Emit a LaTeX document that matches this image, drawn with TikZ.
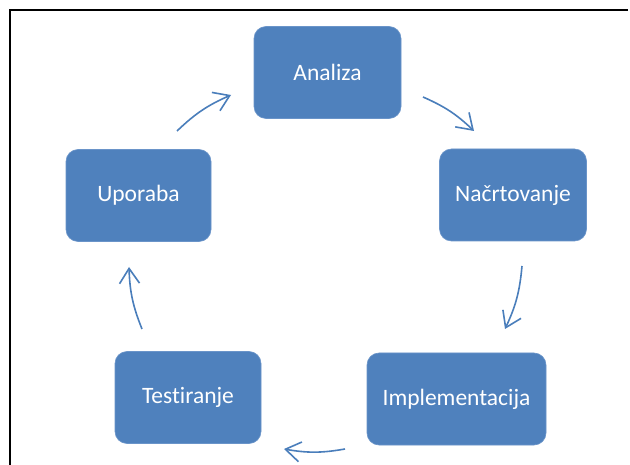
\documentclass[tikz,border=0pt]{standalone}
\usepackage{fontspec}
\setmainfont[Ligatures=NoCommon]{Carlito}
\usetikzlibrary{arrows.meta}
\definecolor{boxblue}{HTML}{4F81BD}
\definecolor{boxedge}{HTML}{6A94C9}
\definecolor{arrblue}{HTML}{4A7EBB}
\begin{document}
\begin{tikzpicture}[x=1pt,y=-1pt,
  stage/.style={rectangle, rounded corners=12pt, fill=boxblue, draw=boxedge, line width=0.6pt,
    text=white, font=\fontsize{23.5}{28}\selectfont, inner sep=0pt, minimum height=92pt},
  cyc/.style={draw=arrblue, line width=1.6pt, bend left=10,
    -{Straight Barb[length=15pt,width=20pt,line width=1.6pt]}},
  frame/.style={line width=1.8pt, draw=black}]
\useasboundingbox (0,0) rectangle (630,465);
\fill[white] (0,0) rectangle (630,465);
\draw[frame] (10,465) -- (10,10) -- (628,10);

\node[stage, minimum width=147pt] (analiza) at (327.5,72.5) {Analiza};
\node[stage, minimum width=147pt] (nacrt) at (513,195) {Načrtovanje};
\node[stage, minimum width=179pt] (impl) at (456.5,399) {Implementacija};
\node[stage, minimum width=146pt] (test) at (188,397.5) {Testiranje};
\node[stage, minimum width=145pt] (upor) at (138.5,195.5) {Uporaba};

\coordinate (a1s) at (177,131); \coordinate (a1e) at (231,95);
\coordinate (a2s) at (423,97);  \coordinate (a2e) at (474,131);
\coordinate (a3s) at (522,266); \coordinate (a3e) at (505,329);
\coordinate (a4s) at (345,449); \coordinate (a4e) at (284,449);
\coordinate (a5s) at (142,329); \coordinate (a5e) at (129,267);

\draw[cyc] (a1s) to (a1e);
\draw[cyc] (a2s) to (a2e);
\draw[cyc] (a3s) to (a3e);
\draw[cyc] (a4s) to (a4e);
\draw[cyc] (a5s) to (a5e);
\end{tikzpicture}
\end{document}
